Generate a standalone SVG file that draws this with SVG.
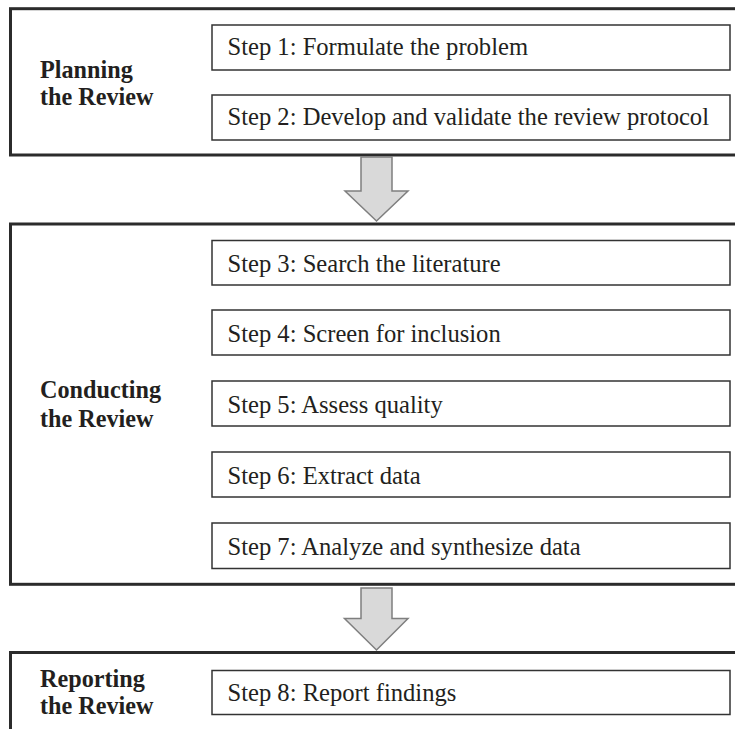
<svg xmlns="http://www.w3.org/2000/svg" width="735" height="729" viewBox="0 0 735 729">
<style>
.stage{fill:#fff;stroke:#2b2b2b;stroke-width:3}
.step{fill:#fff;stroke:#333;stroke-width:1.5}
.st{font-family:"Liberation Serif","Times New Roman",serif;font-size:24.6px;fill:#231f20}
.lbl{font-family:"Liberation Serif","Times New Roman",serif;font-size:24.2px;font-weight:bold;fill:#231f20}
.arr{fill:#d9d9d9;stroke:#7f7f7f;stroke-width:1.5;stroke-linejoin:miter}
</style>
<rect width="735" height="729" fill="#fff"/>
<g id="planning">
<rect class="stage" x="10.5" y="8.7" width="740" height="146.3"/>
<text class="lbl" x="40" y="78">Planning</text>
<text class="lbl" x="40" y="105">the Review</text>
</g>
<g id="step1"><rect class="step" x="212" y="25" width="518" height="45"/><text class="st" x="227.5" y="55">Step 1: Formulate the problem</text></g>
<g id="step2"><rect class="step" x="212" y="95" width="518" height="45"/><text class="st" x="227.5" y="125">Step 2: Develop and validate the review protocol</text></g>
<g id="conducting">
<rect class="stage" x="10.5" y="224" width="740" height="360.3"/>
<text class="lbl" x="40" y="398">Conducting</text>
<text class="lbl" x="40" y="427">the Review</text>
</g>
<g id="step3"><rect class="step" x="212" y="240.5" width="518" height="44.5"/><text class="st" x="227.5" y="272">Step 3: Search the literature</text></g>
<g id="step4"><rect class="step" x="212" y="310" width="518" height="45"/><text class="st" x="227.5" y="341.5">Step 4: Screen for inclusion</text></g>
<g id="step5"><rect class="step" x="212" y="381" width="518" height="45"/><text class="st" x="227.5" y="412.5">Step 5: Assess quality</text></g>
<g id="step6"><rect class="step" x="212" y="452" width="518" height="45"/><text class="st" x="227.5" y="483.5">Step 6: Extract data</text></g>
<g id="step7"><rect class="step" x="212" y="523" width="518" height="45.5"/><text class="st" x="227.5" y="554.5">Step 7: Analyze and synthesize data</text></g>
<g id="reporting">
<rect class="stage" x="10.5" y="652.5" width="740" height="100"/>
<text class="lbl" x="40" y="687">Reporting</text>
<text class="lbl" x="40" y="714">the Review</text>
</g>
<g id="step8"><rect class="step" x="212" y="670.5" width="518" height="44"/><text class="st" x="227.5" y="701">Step 8: Report findings</text></g>
<g id="connectors">
<polygon class="arr" points="361,157 392,157 392,191 408,191 376.5,221 345,191 361,191"/>
<polygon class="arr" points="361,588 392,588 392,618.5 408,618.5 376.5,650 344.5,618.5 361,618.5"/>
</g>
</svg>
